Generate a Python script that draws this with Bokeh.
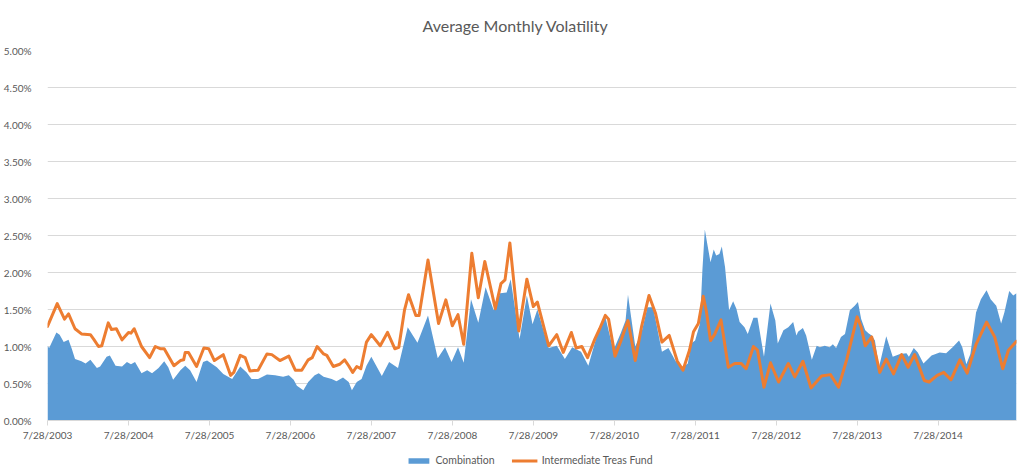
from datetime import datetime
from bokeh.plotting import figure
from bokeh.layouts import column
from bokeh.models import (ColumnDataSource, FixedTicker, CustomJSTickFormatter,
                          PrintfTickFormatter, Legend, LegendItem, Range1d)
from bokeh.embed import file_html
from bokeh.resources import INLINE

title_text = "Average Monthly Volatility"
combo_name = "Combination"
fund_name = "Intermediate Treas Fund"
tick_labels = ["7/28/2003", "7/28/2004", "7/28/2005", "7/28/2006", "7/28/2007", "7/28/2008",
               "7/28/2009", "7/28/2010", "7/28/2011", "7/28/2012", "7/28/2013", "7/28/2014"]
y_ticks = [0.0, 0.5, 1.0, 1.5, 2.0, 2.5, 3.0, 3.5, 4.0, 4.5, 5.0]

# Combination (area) - decimal year, volatility in %
combo_t = [2003.57, 2003.59, 2003.68, 2003.72, 2003.77, 2003.83, 2003.87, 2003.91, 2003.99, 2004.04,
           2004.10, 2004.18, 2004.22, 2004.30, 2004.34, 2004.41, 2004.49, 2004.55, 2004.60, 2004.65,
           2004.73, 2004.80, 2004.86, 2004.94, 2005.01, 2005.06, 2005.12, 2005.21, 2005.27, 2005.33,
           2005.41, 2005.49, 2005.54, 2005.66, 2005.74, 2005.80, 2005.85, 2005.95, 2006.03, 2006.09,
           2006.17, 2006.28, 2006.38, 2006.48, 2006.55, 2006.61, 2006.65, 2006.73, 2006.79, 2006.87,
           2006.92, 2006.98, 2007.08, 2007.14, 2007.22, 2007.29, 2007.33, 2007.39, 2007.45, 2007.51,
           2007.57, 2007.70, 2007.79, 2007.90, 2008.02, 2008.14, 2008.27, 2008.39, 2008.48, 2008.56,
           2008.64, 2008.71, 2008.80, 2008.89, 2008.98, 2009.08, 2009.16, 2009.24, 2009.29, 2009.40,
           2009.49, 2009.56, 2009.62, 2009.76, 2009.86, 2009.96, 2010.05, 2010.16, 2010.25, 2010.38,
           2010.46, 2010.56, 2010.65, 2010.71, 2010.74, 2010.83, 2010.91, 2010.98, 2011.05, 2011.16,
           2011.24, 2011.33, 2011.42, 2011.48, 2011.52, 2011.57, 2011.63, 2011.66, 2011.69, 2011.72,
           2011.76, 2011.80, 2011.83, 2011.87, 2011.90, 2011.94, 2011.99, 2012.04, 2012.08, 2012.12,
           2012.18, 2012.22, 2012.29, 2012.34, 2012.42, 2012.46, 2012.50, 2012.56, 2012.59, 2012.66,
           2012.72, 2012.78, 2012.82, 2012.83, 2012.84, 2012.90, 2012.94, 2013.01, 2013.07, 2013.11,
           2013.17, 2013.23, 2013.27, 2013.31, 2013.37, 2013.42, 2013.48, 2013.54, 2013.58, 2013.62,
           2013.67, 2013.71, 2013.75, 2013.79, 2013.84, 2013.93, 2014.01, 2014.10, 2014.18, 2014.21,
           2014.27, 2014.32, 2014.39, 2014.49, 2014.59, 2014.67, 2014.75, 2014.83, 2014.87, 2014.92,
           2014.97, 2015.04, 2015.10, 2015.17, 2015.22, 2015.29, 2015.35, 2015.39, 2015.45, 2015.50,
           2015.54]
combo_v = [1.01, 0.98, 1.19, 1.16, 1.06, 1.09, 0.97, 0.83, 0.80, 0.77,
           0.82, 0.71, 0.73, 0.86, 0.88, 0.74, 0.73, 0.79, 0.76, 0.79,
           0.64, 0.68, 0.64, 0.71, 0.80, 0.72, 0.55, 0.68, 0.74, 0.68,
           0.52, 0.79, 0.81, 0.72, 0.63, 0.59, 0.56, 0.73, 0.65, 0.56,
           0.56, 0.62, 0.61, 0.59, 0.61, 0.55, 0.47, 0.41, 0.52, 0.61,
           0.64, 0.59, 0.56, 0.53, 0.58, 0.52, 0.41, 0.52, 0.56, 0.74,
           0.86, 0.60, 0.79, 0.71, 1.26, 1.05, 1.42, 0.84, 0.99, 0.79,
           0.99, 0.78, 1.64, 1.32, 1.80, 1.49, 1.72, 1.73, 1.91, 1.10,
           1.69, 1.30, 1.50, 0.98, 1.01, 0.83, 0.99, 0.93, 0.74, 1.24,
           1.40, 0.95, 1.18, 1.35, 1.70, 1.00, 1.20, 1.53, 1.53, 0.93,
           0.98, 0.80, 0.72, 0.77, 1.04, 1.08, 1.31, 2.03, 2.58, 2.39,
           2.14, 2.31, 2.23, 2.25, 2.35, 2.07, 1.49, 1.61, 1.51, 1.33,
           1.26, 1.17, 1.39, 1.39, 0.86, 1.22, 1.58, 1.35, 1.04, 1.22,
           1.26, 1.33, 1.15, float("nan"), 1.20, 1.25, 1.15, 0.82, 1.01, 0.99,
           1.01, 0.99, 1.03, 0.98, 1.13, 1.17, 1.49, 1.55, 1.60, 1.37,
           1.22, 1.18, 1.15, 1.08, 0.72, 1.14, 0.86, 0.90, 0.91, 0.86,
           0.98, 0.92, 0.77, 0.88, 0.92, 0.91, 0.99, 1.08, 0.99, 0.76,
           0.90, 1.46, 1.64, 1.76, 1.64, 1.55, 1.31, 1.46, 1.75, 1.69,
           1.72]

# Intermediate Treas Fund (line)
fund_t = [2003.57, 2003.60, 2003.69, 2003.78, 2003.83, 2003.91, 2003.99, 2004.10, 2004.14, 2004.20,
          2004.24, 2004.32, 2004.36, 2004.42, 2004.49, 2004.57, 2004.60, 2004.64, 2004.73, 2004.83,
          2004.90, 2004.96, 2005.01, 2005.13, 2005.21, 2005.25, 2005.27, 2005.31, 2005.41, 2005.50,
          2005.56, 2005.63, 2005.74, 2005.83, 2005.87, 2005.95, 2006.01, 2006.07, 2006.17, 2006.28,
          2006.34, 2006.44, 2006.55, 2006.63, 2006.71, 2006.79, 2006.84, 2006.90, 2006.98, 2007.02,
          2007.10, 2007.18, 2007.24, 2007.29, 2007.34, 2007.39, 2007.44, 2007.51, 2007.57, 2007.68,
          2007.77, 2007.86, 2007.91, 2007.98, 2008.03, 2008.12, 2008.16, 2008.27, 2008.40, 2008.49,
          2008.57, 2008.64, 2008.71, 2008.81, 2008.89, 2008.97, 2009.10, 2009.17, 2009.22, 2009.28,
          2009.39, 2009.49, 2009.57, 2009.62, 2009.76, 2009.86, 2009.94, 2010.04, 2010.10, 2010.17,
          2010.24, 2010.33, 2010.39, 2010.46, 2010.50, 2010.58, 2010.66, 2010.74, 2010.83, 2010.91,
          2011.00, 2011.08, 2011.16, 2011.25, 2011.35, 2011.42, 2011.50, 2011.55, 2011.61, 2011.67,
          2011.71, 2011.76, 2011.81, 2011.89, 2011.98, 2012.06, 2012.14, 2012.20, 2012.29, 2012.34,
          2012.42, 2012.50, 2012.60, 2012.72, 2012.80, 2012.90, 2013.00, 2013.13, 2013.24, 2013.34,
          2013.44, 2013.57, 2013.62, 2013.67, 2013.75, 2013.85, 2013.93, 2014.02, 2014.12, 2014.20,
          2014.28, 2014.40, 2014.46, 2014.56, 2014.64, 2014.73, 2014.84, 2014.93, 2015.04, 2015.17,
          2015.27, 2015.37, 2015.44, 2015.54]
fund_v = [1.27, 1.35, 1.58, 1.37, 1.44, 1.24, 1.17, 1.16, 1.10, 1.00,
          1.01, 1.32, 1.23, 1.24, 1.09, 1.19, 1.18, 1.24, 1.00, 0.85,
          1.00, 0.97, 0.97, 0.74, 0.81, 0.82, 0.92, 0.92, 0.73, 0.98,
          0.97, 0.81, 0.89, 0.61, 0.65, 0.88, 0.85, 0.67, 0.68, 0.90,
          0.89, 0.81, 0.87, 0.68, 0.68, 0.82, 0.85, 1.00, 0.90, 0.88,
          0.73, 0.76, 0.82, 0.74, 0.65, 0.73, 0.70, 1.06, 1.16, 1.01,
          1.19, 0.97, 0.99, 1.49, 1.70, 1.42, 1.42, 2.17, 1.31, 1.63,
          1.28, 1.43, 1.03, 2.26, 1.66, 2.15, 1.51, 1.85, 1.90, 2.40,
          1.21, 1.91, 1.54, 1.60, 1.01, 1.16, 0.92, 1.19, 0.98, 1.00,
          0.85, 1.10, 1.24, 1.42, 1.37, 0.87, 1.10, 1.35, 0.81, 1.28,
          1.69, 1.45, 1.06, 1.15, 0.80, 0.68, 0.95, 1.20, 1.31, 1.68,
          1.47, 1.08, 1.16, 1.36, 0.72, 0.77, 0.77, 0.70, 1.00, 0.95,
          0.45, 0.78, 0.52, 0.77, 0.59, 0.80, 0.44, 0.60, 0.62, 0.45,
          0.82, 1.40, 1.26, 1.01, 1.13, 0.65, 0.83, 0.63, 0.89, 0.72,
          0.89, 0.54, 0.52, 0.61, 0.65, 0.55, 0.82, 0.64, 1.03, 1.33,
          1.13, 0.70, 0.95, 1.07]


def to_dt(t):
    y = int(t)
    start, end = datetime(y, 1, 1), datetime(y + 1, 1, 1)
    return start + (end - start) * (t - y)


def ms(d):
    return (d - datetime(1970, 1, 1)).total_seconds() * 1000.0


combo_src = ColumnDataSource(dict(x=[to_dt(t) for t in combo_t], y=combo_v, y0=[0.0] * len(combo_v)))
fund_src = ColumnDataSource(dict(x=[to_dt(t) for t in fund_t], y=fund_v))

tick_dates = [datetime.strptime(s, "%m/%d/%Y") for s in tick_labels]
tick_ms = [ms(d) for d in tick_dates]

x_start = min(tick_dates[0], to_dt(combo_t[0]), to_dt(fund_t[0]))
x_end = max(to_dt(combo_t[-1]), to_dt(fund_t[-1]))

text_color = "#595959"
font = "Lato"
blue = "#5B9BD5"
orange = "#ED7D31"

p = figure(frame_width=969, frame_height=370, x_axis_type="datetime",
           x_range=Range1d(x_start, x_end),
           y_range=Range1d(y_ticks[0], y_ticks[-1]),
           output_backend="svg", toolbar_location=None)
p.min_border_left = 42
p.min_border_right = 5
p.min_border_top = 50
p.min_border_bottom = 30
p.outline_line_color = None
p.background_fill_color = "white"
p.border_fill_color = "white"

p.title.text = title_text
p.title.align = "left"
p.title.offset = 375
p.title.vertical_align = "top"
p.title.text_font = font
p.title.text_font_size = "16px"
p.title.text_font_style = "normal"
p.title.text_color = text_color
p.title.standoff = 27

p.varea(x="x", y1="y0", y2="y", source=combo_src, fill_color=blue)
p.line(x="x", y="y", source=fund_src, line_color=orange, line_width=3,
       line_join="round", line_cap="round")

p.xgrid.visible = False
p.ygrid.grid_line_color = "#D9D9D9"
p.ygrid.grid_line_width = 1

yax = p.yaxis[0]
yax.ticker = FixedTicker(ticks=y_ticks)
yax.formatter = PrintfTickFormatter(format="%.2f%%")
yax.axis_line_color = None
yax.major_tick_line_color = None
yax.minor_tick_line_color = None
yax.major_label_text_font = font
yax.major_label_text_font_size = "10px"
yax.major_label_text_color = text_color
yax.major_label_standoff = 10

xax = p.xaxis[0]
xax.ticker = FixedTicker(ticks=tick_ms)
xax.formatter = CustomJSTickFormatter(code="""
const d = new Date(tick);
return (d.getUTCMonth() + 1) + "/" + d.getUTCDate() + "/" + d.getUTCFullYear();
""")
xax.axis_line_color = "#D9D9D9"
xax.major_tick_line_color = "#D9D9D9"
xax.major_tick_out = 5
xax.major_tick_in = 0
xax.minor_tick_line_color = None
xax.major_label_text_font = font
xax.major_label_text_font_size = "10px"
xax.major_label_text_color = text_color
xax.major_label_standoff = 3

# legend strip below the chart (same sources, outside this strip's range, so only legend glyphs show)
lf = figure(width=1016, height=20, x_range=Range1d(0, 1), y_range=Range1d(0, 1),
            x_axis_location=None, y_axis_location=None,
            output_backend="svg", toolbar_location=None, min_border=0)
lf.outline_line_color = None
lf.grid.visible = False
l_area = lf.varea(x="x", y1="y0", y2="y", source=combo_src, fill_color=blue)
l_line = lf.line(x="x", y="y", source=fund_src, line_color=orange, line_width=3)
legend = Legend(items=[LegendItem(label=combo_name, renderers=[l_area]),
                       LegendItem(label=fund_name, renderers=[l_line])],
                orientation="horizontal", location="center")
legend.label_text_font = font
legend.label_text_font_size = "10.5px"
legend.label_text_color = text_color
legend.border_line_color = None
legend.background_fill_alpha = 0
legend.glyph_width = 26
legend.glyph_height = 7
legend.label_height = 12
legend.label_width = 10
legend.label_standoff = 4
legend.spacing = 17
legend.padding = 0
legend.margin = 0
lf.add_layout(legend, "center")

layout = column(p, lf, spacing=0)
open("out.html", "w").write(file_html(layout, INLINE))
